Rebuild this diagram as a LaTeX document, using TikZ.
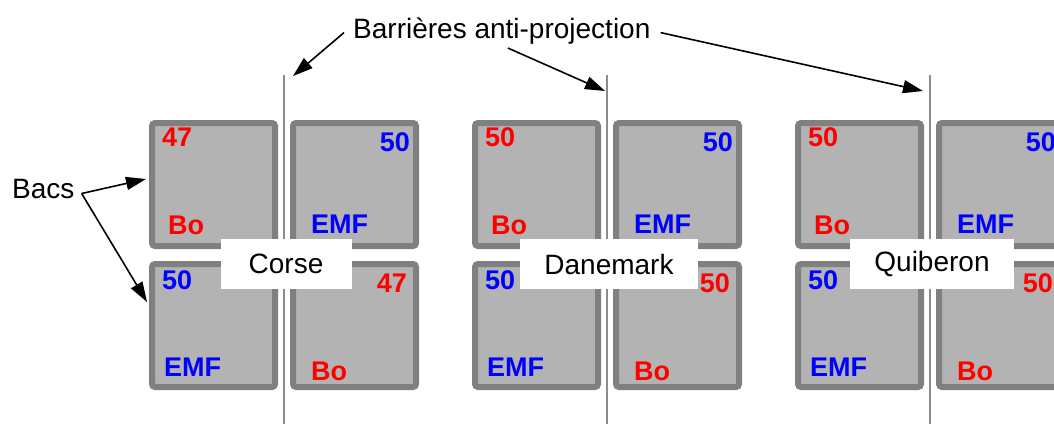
\documentclass[tikz,border=0pt]{standalone}
\usepackage{fontspec}
\setmainfont{Liberation Sans}
\usetikzlibrary{arrows.meta, positioning}
\definecolor{bacfill}{RGB}{179,179,179}
\definecolor{bacedge}{RGB}{128,128,128}
\definecolor{barcolor}{RGB}{140,140,140}
\tikzset{
  bac/.style     = {draw=bacedge, fill=bacfill, line width=6pt, rounded corners=3pt,
                    minimum width=123pt, minimum height=123pt, inner sep=0pt},
  tag/.style     = {font=\fontsize{27}{31}\selectfont\bfseries, inner sep=0pt},
  place/.style   = {fill=white, inner xsep=24pt, inner ysep=0pt, minimum height=50pt,
                    minimum width=131pt, font=\fontsize{28}{32}\selectfont},
  txt/.style     = {font=\fontsize{28}{32}\selectfont, inner sep=0pt},
  barrier/.style = {draw=barcolor, line width=1.5pt},
  arrow/.style   = {-{Triangle[length=20pt, width=13pt]}, line width=1.6pt},
}

\begin{document}
\begin{tikzpicture}[x=1pt, y=-1pt]
  \useasboundingbox (0,0) rectangle (1054,424);
  \clip (0,0) rectangle (1054,424);

  % barriers
  \foreach \g/\gx in {1/149, 2/472, 3/795} {
    \coordinate (bt\g) at (\gx+135, 75);
    \coordinate (bb\g) at (\gx+135, 424);
    \draw[barrier] (bt\g) -- (bb\g);
  }

  % tanks
  \foreach \g/\gx/\nb/\lbl in {1/149/47/Corse, 2/472/50/Danemark, 3/795/50/Quiberon} {
    \node[bac] (tl\g) at (\gx+64.5, 184.5) {};
    \node[bac] (tr\g) at (\gx+205.5, 184.5) {};
    \node[bac] (bl\g) at (\gx+64.5, 325.5) {};
    \node[bac] (br\g) at (\gx+205.5, 325.5) {};

    \node[tag, text=red, anchor=west]  (tln\g) at (\gx+13, 137) {\nb};
    \node[tag, text=red, anchor=west]  (tlt\g) at (\gx+19, 225) {Bo};
    \node[tag, text=blue, anchor=east] (trn\g) at (\gx+261, 142) {50};
    \node[tag, text=blue, anchor=west] (trt\g) at (\gx+162, 224) {EMF};
    \node[tag, text=blue, anchor=west] (bln\g) at (\gx+13, 280) {50};
    \node[tag, text=blue, anchor=west] (blt\g) at (\gx+15, 367) {EMF};
    \node[tag, text=red, anchor=east]  (brn\g) at (\gx+258, 283) {\nb};
    \node[tag, text=red, anchor=west]  (brt\g) at (\gx+162, 371) {Bo};

    \node[place] (site\g) at (\gx+137, 264) {\lbl};
  }

  % labels
  \node[txt, anchor=base west] (bacs) at (12, 198) {Bacs};
  \node[txt, anchor=base west] (barr) at (353, 38) {Barrières anti-projection};

  \coordinate (fork) at ([xshift=7pt, yshift=-5pt]bacs.east);
  \coordinate (hit1) at (146, 179);
  \coordinate (hit2) at (147, 302);
  \draw[arrow] (fork) -- (hit1);
  \draw[arrow] (fork) -- (hit2);

  \coordinate (tip1) at (293, 76);
  \coordinate (tip2) at (605, 91);
  \coordinate (tip3) at (923, 91);
  \draw[arrow] ([xshift=-9pt, yshift=-2pt]barr.west) -- (tip1);
  \draw[arrow] ([xshift=6pt, yshift=-4pt]barr.south) -- (tip2);
  \draw[arrow] ([xshift=10pt, yshift=-2pt]barr.east) -- (tip3);
\end{tikzpicture}
\end{document}
